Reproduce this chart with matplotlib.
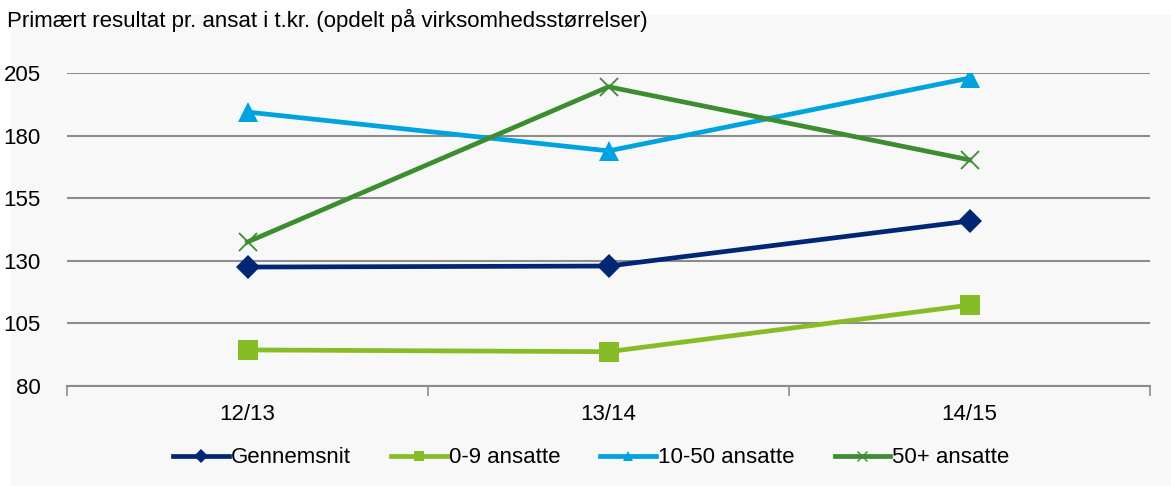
import numpy as np
import matplotlib.pyplot as plt
from matplotlib.lines import Line2D
from matplotlib.patches import Rectangle

plt.rcParams['font.family'] = ['Liberation Sans', 'DejaVu Sans']

periods = ['12/13', '13/14', '14/15']
gennemsnit = [127.5, 127.9, 145.9]
ansatte_0_9 = [94.4, 93.7, 112.3]
ansatte_10_50 = [189.4, 173.9, 203.0]
ansatte_50 = [137.5, 199.5, 170.3]

names = ['Gennemsnit', '0-9 ansatte', '10-50 ansatte', '50+ ansatte']
colors = ['#002776', '#86bc25', '#00a3e0', '#3b8d2f']
markers = ['D', 's', '^', 'x']
sizes = [12.5, 14.5, 14.5, 13]
leg_sizes = [7, 7.5, 7.5, 7]

bg = '#f8f8f8'
fig = plt.figure(figsize=(11.71, 4.86), dpi=100, facecolor='white')
# grey panel, leaving a thin white strip on the left and top
fig.patches.append(Rectangle((11 / 1171, 0), 1, 1 - 15 / 486,
                             transform=fig.transFigure, facecolor=bg,
                             edgecolor='none', zorder=-10))

ax = fig.add_axes([0.0572, 0.2058, 0.925, 0.644])
ax.set_facecolor(bg)

x = np.arange(len(periods))
series = [gennemsnit, ansatte_0_9, ansatte_10_50, ansatte_50]
handles = []
for vals, name, c, m, s, ls in zip(series, names, colors, markers, sizes, leg_sizes):
    ax.plot(x, vals, color=c, lw=3.4, marker=m, markersize=s,
            markeredgewidth=1.3 if m == 'x' else 0, markeredgecolor=c,
            zorder=3, solid_joinstyle='round')
    handles.append(Line2D([], [], color=c, lw=3.4, marker=m,
                          markersize=ls, markeredgewidth=1 if m == 'x' else 0,
                          markeredgecolor=c, label=name))

ax.set_xlim(-0.5, 2.5)
ax.set_ylim(80, 205)
ax.set_yticks(np.arange(80, 206, 25))
ax.yaxis.grid(True, color='#8c8c8c', lw=1.5)
ax.set_axisbelow(True)
for sp in ['left', 'right', 'top']:
    ax.spines[sp].set_visible(False)
ax.spines['bottom'].set_color('#8c8c8c')
ax.spines['bottom'].set_linewidth(1.5)

ax.set_xticks(x)
ax.set_xticklabels(periods)
ax.set_xticks([-0.5, 0.5, 1.5, 2.5], minor=True)
ax.tick_params(axis='x', which='major', length=0, pad=13, labelsize=16)
ax.tick_params(axis='x', which='minor', length=7, width=1.2, color='#8c8c8c')
ax.tick_params(axis='y', length=0, pad=19, labelsize=16)

fig.text(0.006, 0.957, 'Primært resultat pr. ansat i t.kr. (opdelt på virksomhedsstørrelser)',
         fontsize=16, ha='left', va='center')

fig.legend(handles=handles, loc='center', bbox_to_anchor=(0.505, 0.058), ncol=4,
           frameon=False, fontsize=16, handlelength=2.5, handletextpad=0.1,
           columnspacing=1.8)

fig.savefig('out.png', dpi=100, facecolor='white')
